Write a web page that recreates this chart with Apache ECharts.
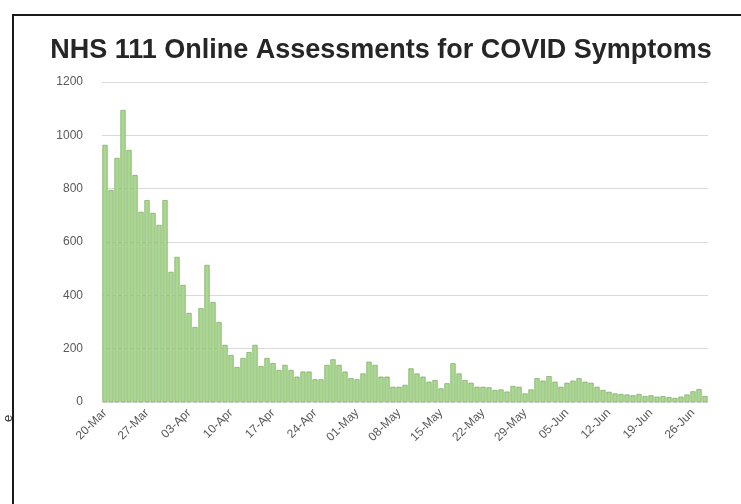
<!DOCTYPE html>
<html>
<head>
<meta charset="utf-8">
<script src="https://cdn.jsdelivr.net/npm/echarts@6/dist/echarts.min.js"></script>
<style>
html,body{margin:0;padding:0;background:#fff;}
#chart{width:741px;height:504px;}
</style>
</head>
<body>
<div id="chart"></div>
<script>
var titleText = 'NHS 111 Online Assessments for COVID Symptoms';
var startDate = '2020-03-20';
var dayCount = 101;
var monthNames = ['Jan','Feb','Mar','Apr','May','Jun','Jul','Aug','Sep','Oct','Nov','Dec'];
var assessments = [
  964, 795, 915, 1095, 945, 851, 713, 757, 709, 664,
  757, 488, 544, 439, 334, 281, 352, 514, 375, 300,
  214, 176, 131, 165, 187, 214, 135, 165, 146, 120,
  139, 120, 95, 114, 114, 85, 85, 139, 160, 139,
  114, 89, 85, 107, 151, 139, 95, 95, 57, 57,
  64, 126, 107, 95, 76, 82, 51, 70, 145, 107,
  82, 72, 57, 57, 55, 45, 47, 39, 60, 57,
  32, 47, 89, 80, 97, 76, 57, 72, 80, 89,
  76, 72, 57, 45, 38, 32, 30, 28, 25, 30,
  22, 25, 20, 22, 18, 15, 20, 28, 40, 48,
  22
];
var yTicks = [0, 200, 400, 600, 800, 1000, 1200];

var categories = [];
var d0 = new Date(startDate + 'T00:00:00Z');
for (var i = 0; i < dayCount; i++) {
  var d = new Date(d0.getTime() + i * 86400000);
  var dd = d.getUTCDate();
  categories.push((dd < 10 ? '0' + dd : '' + dd) + '-' + monthNames[d.getUTCMonth()]);
}

var chart = echarts.init(document.getElementById('chart'), null, {renderer: 'canvas'});
chart.setOption({
  animation: false,
  backgroundColor: '#ffffff',
  title: {
    text: titleText,
    left: 376, top: 32, textAlign: 'center',
    textStyle: {fontFamily: 'Liberation Sans', fontWeight: 'bold', fontSize: 27, color: '#262626'}
  },
  graphic: [
    {type: 'rect', shape: {x: 13, y: 15, width: 760, height: 520},
     style: {fill: 'none', stroke: '#1a1a1a', lineWidth: 2}, silent: true},
    {type: 'text', x: 2, y: 422, rotation: Math.PI / 2,
     style: {text: 'e', fontFamily: 'Liberation Sans', fontSize: 13, fill: '#333'}}
  ],
  grid: {left: 102, right: 33, top: 82, bottom: 102, containLabel: false},
  xAxis: {
    type: 'category',
    data: categories,
    axisLine: {show: true, lineStyle: {color: '#d9d9d9', width: 1}},
    axisTick: {show: false},
    axisLabel: {
      interval: 6, rotate: 45, margin: 9,
      fontFamily: 'Liberation Sans', fontSize: 12, color: '#595959'
    }
  },
  yAxis: {
    type: 'value',
    min: yTicks[0], max: yTicks[yTicks.length - 1], interval: 200,
    axisLine: {show: false},
    axisTick: {show: false},
    axisLabel: {
      fontFamily: 'Liberation Sans', fontSize: 12, color: '#595959', margin: 19,
      formatter: function (v) { return String(v); }
    },
    splitLine: {lineStyle: {color: '#d9d9d9', width: 1}}
  },
  series: [{
    type: 'bar',
    data: assessments,
    barCategoryGap: '15%',
    itemStyle: {color: '#a9d88f', borderColor: '#6b9e52', borderWidth: 0.6}
  }]
});
</script>
</body>
</html>
